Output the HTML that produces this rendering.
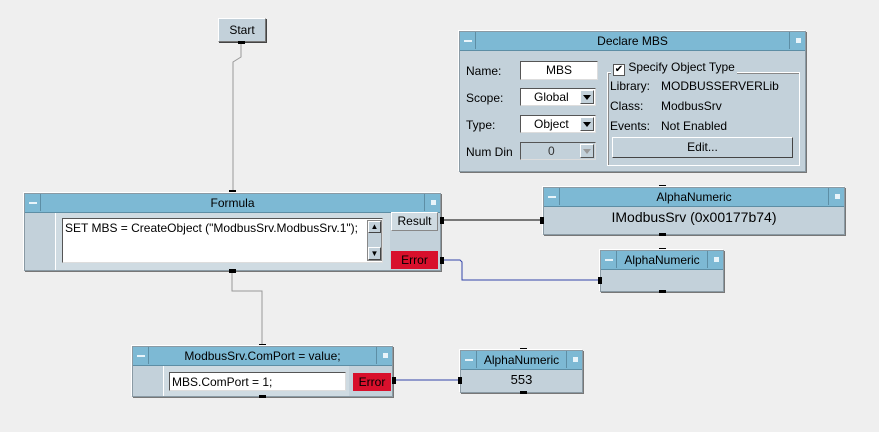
<!DOCTYPE html>
<html><head><meta charset="utf-8"><style>
body{margin:0;width:879px;height:432px;background:#efefef;position:relative;overflow:hidden;font-family:"Liberation Sans",sans-serif;font-size:12px;color:#000}
.a{position:absolute;box-sizing:border-box}
.box{background:#c3d1da;border:1px solid #8a9aa4;box-shadow:1px 1px 0 #777,-1px -1px 0 #fff}
.tb{background:#7db9d4;border-bottom:1px solid #5d8ea5;text-align:center;line-height:18px;height:19px}
.btn{width:16px;height:17px;background:#7db9d4;border-right:1px solid #5d8ea5;top:0}
.btn i{position:absolute;left:4px;top:8px;width:8px;height:2px;background:#e8f4fa}
.btnr{width:16px;height:17px;background:#7db9d4;border-left:1px solid #5d8ea5;top:0;right:0}
.btnr i{position:absolute;left:6px;top:6px;width:5px;height:5px;background:#e8f4fa}
.pin{position:absolute;background:#000}
.w{background:#fff;border:1px solid #555;border-right-color:#ddd;border-bottom-color:#ddd}
.err{background:#d8102c;color:#000;text-align:center}
.sel{background:#fff;border:1px solid #555;border-right-color:#ddd;border-bottom-color:#ddd;text-align:center;line-height:16px}
.dd{position:absolute;right:1px;top:1px;width:14px;height:14px;background:#c3d1da;border:1px solid #fff;border-right-color:#555;border-bottom-color:#555;box-sizing:border-box}
.dd:after{content:"";position:absolute;left:2px;top:4px;border-left:4px solid transparent;border-right:4px solid transparent;border-top:5px solid #000}
.dd.g:after{border-top-color:#999}
</style></head><body>
<svg class="a" style="left:0;top:0" width="879" height="432">
<polyline points="241,42 241,57 233,62 233,192" fill="none" stroke="#999" stroke-width="1"/>
<polyline points="232,271 232,291 262,291 262,346" fill="none" stroke="#999" stroke-width="1"/>
<line x1="441" y1="220" x2="543" y2="220" stroke="#000"/>
<polyline points="441,260 460,260 462,262 462,280 600,280" fill="none" stroke="#3344aa"/>
<line x1="393" y1="380" x2="460" y2="380" stroke="#3344aa"/>
</svg>

<div class="a" style="left:218px;top:18px;width:48px;height:24px;background:#c3d1da;border:1px solid #777;border-top-color:#fff;border-left-color:#fff;box-shadow:1px 1px 0 #444;text-align:center;line-height:22px">Start</div>
<div class="pin" style="left:238px;top:41px;width:7px;height:3px"></div>

<div class="a box" style="left:459px;top:31px;width:347px;height:141px">
 <div class="a tb" style="left:0;top:0;width:345px">Declare MBS</div>
 <div class="a btn"><i></i></div><div class="a btnr"><i></i></div>
 <div class="a" style="left:6px;top:32px">Name:</div>
 <div class="a" style="left:6px;top:59px">Scope:</div>
 <div class="a" style="left:6px;top:86px">Type:</div>
 <div class="a" style="left:6px;top:113px">Num Din</div>
 <div class="a w" style="left:60px;top:29px;width:78px;height:19px;text-align:center;line-height:17px;background:#fff">MBS</div>
 <div class="a sel" style="left:60px;top:56px;width:76px;height:18px">Global&nbsp;&nbsp;&nbsp;&nbsp;<span class="dd"></span></div>
 <div class="a sel" style="left:60px;top:83px;width:76px;height:18px">Object&nbsp;&nbsp;&nbsp;&nbsp;<span class="dd"></span></div>
 <div class="a sel" style="left:60px;top:110px;width:76px;height:18px;background:#c3d1da;color:#333">0&nbsp;&nbsp;&nbsp;&nbsp;<span class="dd g"></span></div>
 <div class="a" style="left:147px;top:40px;width:193px;height:94px;border:1px solid #fff;box-shadow:inset 1px 1px 0 #888"></div>
 <div class="a" style="left:151px;top:28px;background:#c3d1da;padding:0 2px"><span style="display:inline-block;width:10px;height:10px;background:#fff;border:1px solid #555;vertical-align:-1px;font-size:10px;line-height:10px;text-align:center">✔</span> Specify Object Type</div>
 <div class="a" style="left:150px;top:47px">Library:</div><div class="a" style="left:201px;top:47px">MODBUSSERVERLib</div>
 <div class="a" style="left:150px;top:67px">Class:</div><div class="a" style="left:201px;top:67px">ModbusSrv</div>
 <div class="a" style="left:150px;top:87px">Events:</div><div class="a" style="left:201px;top:87px">Not Enabled</div>
 <div class="a" style="left:152px;top:105px;width:181px;height:21px;border:1px solid #fff;border-right-color:#444;border-bottom-color:#444;text-align:center;line-height:19px">Edit...</div>
</div>

<div class="pin" style="left:229px;top:190px;width:7px;height:4px"></div>
<div class="a box" style="left:24px;top:193px;width:417px;height:78px">
 <div class="a tb" style="left:0;top:0;width:415px">Formula</div>
 <div class="a btn"><i></i></div><div class="a btnr"><i></i></div>
 <div class="a" style="left:30px;top:19px;width:335px;height:57px;background:#cfdbe2;border-left:1px solid #fff"></div>
 <div class="a w" style="left:37px;top:24px;width:321px;height:45px;padding:2px 2px;white-space:nowrap">SET MBS = CreateObject ("ModbusSrv.ModbusSrv.1");</div>
 <div class="a" style="left:342px;top:26px;width:15px;height:41px;background:#c3d1da;border:1px solid #888"></div>
 <div class="a" style="left:343px;top:27px;width:13px;height:12px;border:1px solid #fff;border-right-color:#444;border-bottom-color:#444;font-size:8px;text-align:center;line-height:10px">▲</div>
 <div class="a" style="left:343px;top:53px;width:13px;height:13px;border:1px solid #fff;border-right-color:#444;border-bottom-color:#444;font-size:8px;text-align:center;line-height:11px">▼</div>
 <div class="a" style="left:366px;top:18px;width:47px;height:19px;background:#cfdbe2;border:1px solid #fff;border-right-color:#888;border-bottom-color:#888;text-align:center;line-height:17px">Result</div>
 <div class="a err" style="left:366px;top:57px;width:47px;height:18px;line-height:18px">Error</div>
</div>
<div class="pin" style="left:440px;top:217px;width:4px;height:7px"></div>
<div class="pin" style="left:440px;top:257px;width:4px;height:7px"></div>
<div class="pin" style="left:229px;top:269px;width:7px;height:4px"></div>

<div class="pin" style="left:659px;top:185px;width:7px;height:3px"></div>
<div class="a box" style="left:543px;top:187px;width:302px;height:48px">
 <div class="a tb" style="left:0;top:0;width:300px">AlphaNumeric</div>
 <div class="a btn"><i></i></div><div class="a btnr"><i></i></div>
 <div class="a" style="left:0;top:21px;width:300px;text-align:center;font-size:14px">IModbusSrv (0x00177b74)</div>
</div>
<div class="pin" style="left:540px;top:217px;width:4px;height:7px"></div>
<div class="pin" style="left:659px;top:233px;width:7px;height:3px"></div>

<div class="pin" style="left:659px;top:248px;width:7px;height:3px"></div>
<div class="a box" style="left:600px;top:250px;width:124px;height:42px">
 <div class="a tb" style="left:0;top:0;width:122px">AlphaNumeric</div>
 <div class="a btn"><i></i></div><div class="a btnr"><i></i></div>
</div>
<div class="pin" style="left:598px;top:277px;width:4px;height:7px"></div>
<div class="pin" style="left:659px;top:290px;width:7px;height:3px"></div>

<div class="pin" style="left:259px;top:344px;width:7px;height:3px"></div>
<div class="a box" style="left:132px;top:346px;width:261px;height:51px">
 <div class="a tb" style="left:0;top:0;width:259px">ModbusSrv.ComPort = value;</div>
 <div class="a btn"><i></i></div><div class="a btnr"><i></i></div>
 <div class="a" style="left:30px;top:19px;width:186px;height:30px;background:#cfdbe2;border-left:1px solid #fff"></div>
 <div class="a w" style="left:36px;top:25px;width:177px;height:19px;padding:1px 2px;line-height:16px">MBS.ComPort = 1;</div>
 <div class="a err" style="left:220px;top:26px;width:38px;height:18px;line-height:18px">Error</div>
</div>
<div class="pin" style="left:392px;top:377px;width:4px;height:7px"></div>
<div class="pin" style="left:259px;top:395px;width:7px;height:3px"></div>

<div class="pin" style="left:520px;top:348px;width:7px;height:3px"></div>
<div class="a box" style="left:460px;top:350px;width:123px;height:43px">
 <div class="a tb" style="left:0;top:0;width:121px">AlphaNumeric</div>
 <div class="a btn"><i></i></div><div class="a btnr"><i></i></div>
 <div class="a" style="left:0;top:21px;width:121px;text-align:center;font-size:13px">553</div>
</div>
<div class="pin" style="left:458px;top:377px;width:4px;height:7px"></div>
<div class="pin" style="left:520px;top:391px;width:7px;height:3px"></div>
</body></html>
